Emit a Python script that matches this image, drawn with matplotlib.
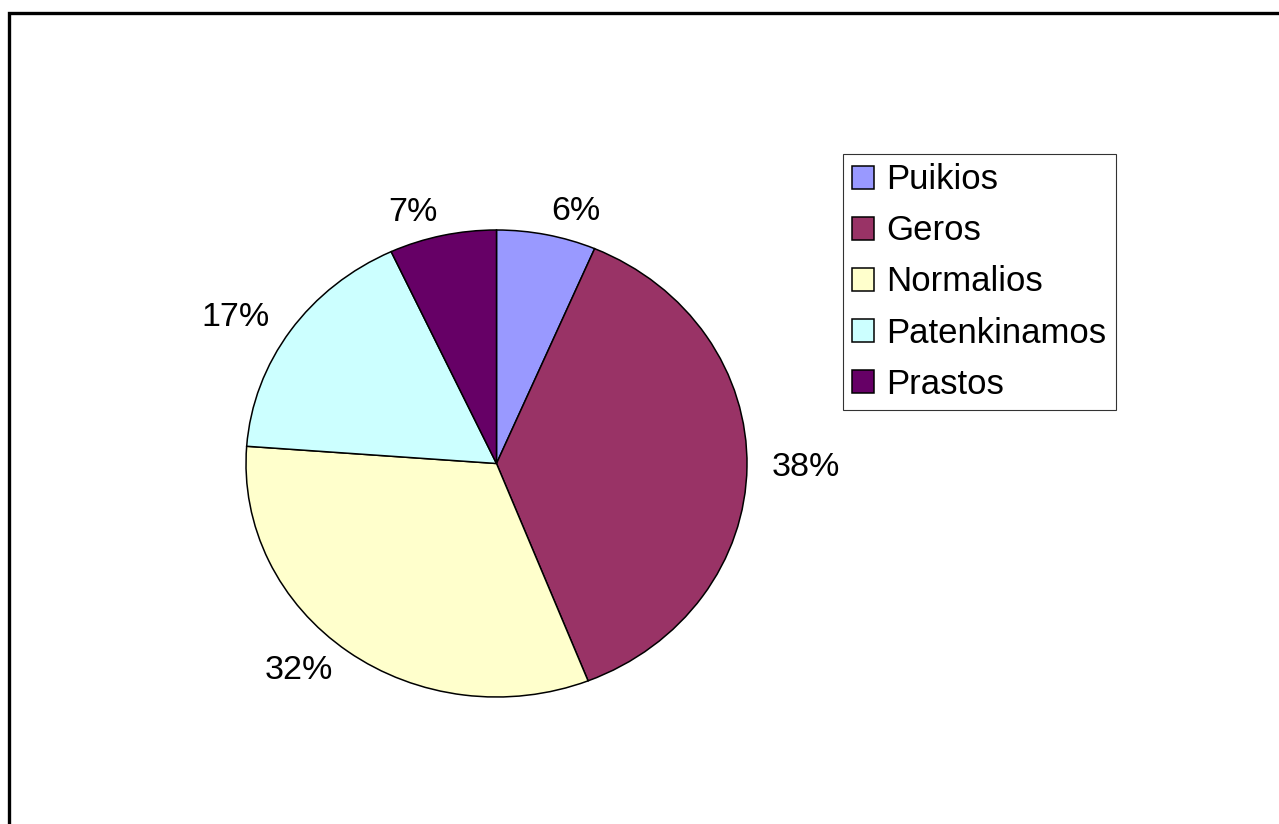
import matplotlib
matplotlib.use("Agg")
import matplotlib.pyplot as plt
from matplotlib.patches import Rectangle

plt.rcParams['font.family'] = ['Liberation Sans', 'DejaVu Sans']

categories = ['Puikios', 'Geros', 'Normalios', 'Patenkinamos', 'Prastos']
values = [6.4, 37.6, 32.1, 16.9, 6.9]
colors = ['#9999FF', '#993366', '#FFFFCC', '#CCFFFF', '#660066']

W, H = 1279, 824
fig = plt.figure(figsize=(W / 100, H / 100), dpi=100)

# outer chart frame (right/bottom edges run off the picture)
fig.patches.append(Rectangle((9 / W, -0.1), 1.2, 1 - 13 / H + 0.1,
                             transform=fig.transFigure, fill=False,
                             edgecolor='black', linewidth=2.4))

# pie drawn slightly squashed, as in the original
ax = fig.add_axes([246 / W, (H - 697) / H, 501 / W, 467 / H])
total = sum(values)
pct_labels = ['%d%%' % round(v / total * 100) for v in values]
wedges, texts = ax.pie(values, labels=pct_labels, colors=colors,
                       startangle=90, counterclock=False, labeldistance=1.1,
                       wedgeprops=dict(edgecolor='black', linewidth=1.1),
                       textprops=dict(fontsize=24.5))
ax.set_aspect('auto')
ax.set_xlim(-1, 1)
ax.set_ylim(-1, 1)
ax.axis('off')

leg = fig.legend(wedges, categories, loc='upper left',
                 bbox_to_anchor=(843 / W, 1 - 154 / H),
                 fontsize=25, frameon=True, fancybox=False,
                 handlelength=0.63, handleheight=0.63, handletextpad=0.35,
                 labelspacing=0.52, borderpad=0.27, borderaxespad=0)
leg.get_frame().set_edgecolor('black')
leg.get_frame().set_linewidth(0.8)

fig.savefig('out.png', dpi=100)
